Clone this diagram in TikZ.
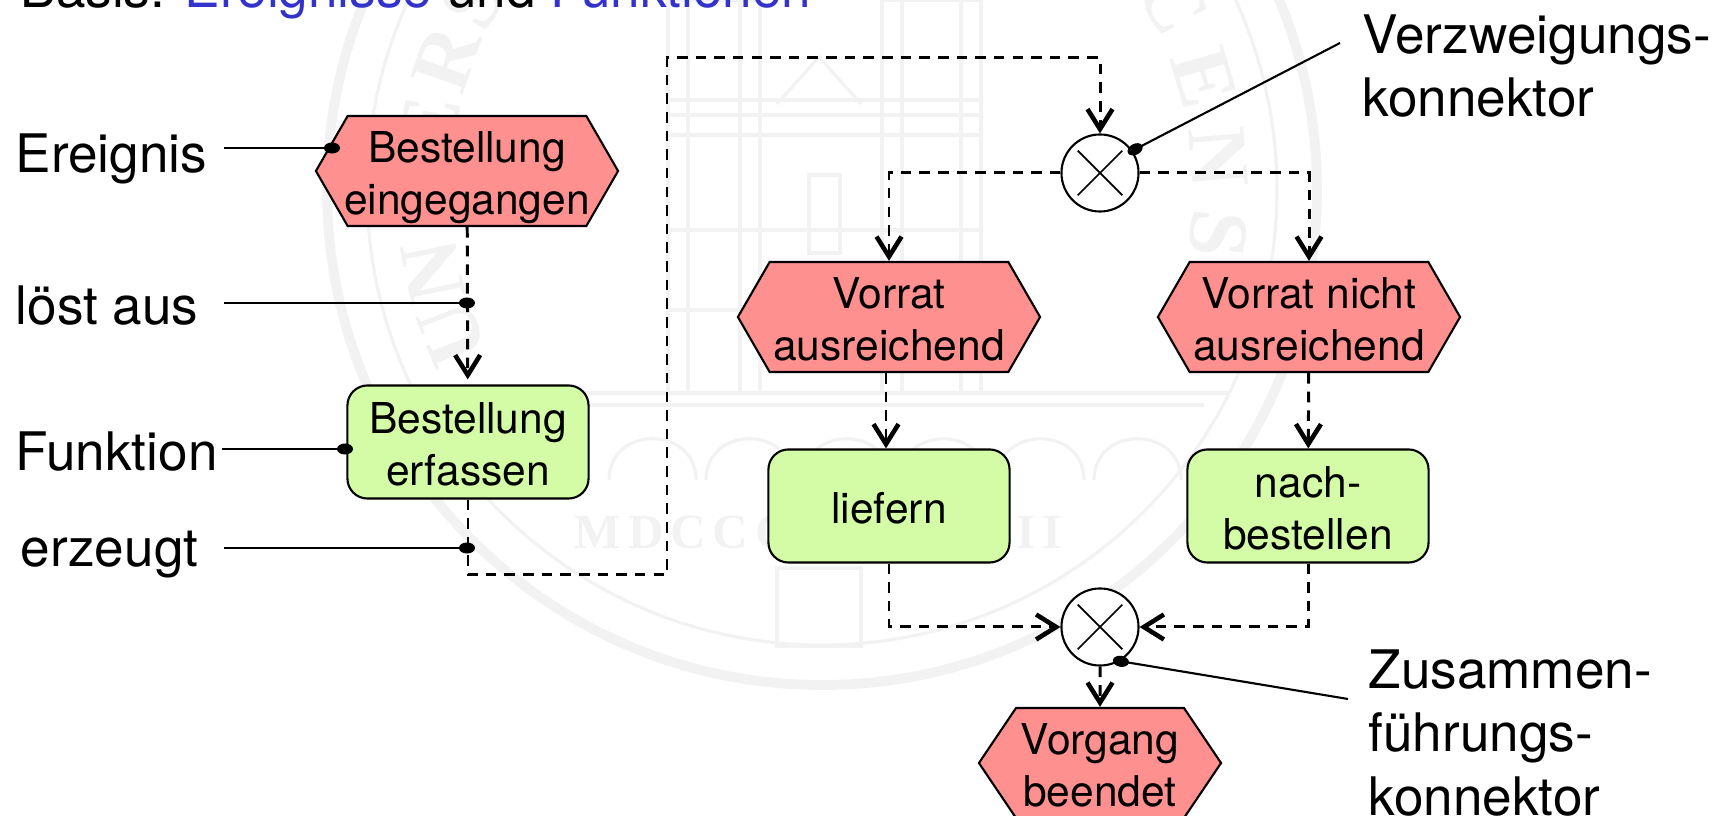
\documentclass[tikz,border=0pt]{standalone}
\usepackage{fontspec}
\setmainfont{TeX Gyre Heros}
\newfontfamily\sealfont[LetterSpace=14]{Liberation Serif}
\newfontfamily\sealarc{Liberation Serif}
\usepackage{xcolor}
\usetikzlibrary{arrows.meta,shapes.symbols,decorations.text}
\definecolor{eventred}{HTML}{FF9090}
\definecolor{funcgreen}{HTML}{D4FCA6}
\definecolor{basisblue}{HTML}{3333CC}
\definecolor{sealgray}{HTML}{F2F2F2}
\newcommand{\twolines}[2]{\rule{0pt}{14pt}#1\\#2\rule[-4pt]{0pt}{4pt}}
\tikzset{
	x=0.01cm, y=-0.01cm,
	label text/.style={align=center, font=\fontsize{12.1}{14.7}\selectfont},
	event/.style={draw, fill=eventred, signal, signal to=east and west, signal pointer angle=120, minimum width=3.02cm, minimum height=1.1cm, inner xsep=-0.4cm, inner ysep=-0.3cm, label text, line width=0.6pt},
	func/.style={draw, fill=funcgreen, rounded corners=0.2cm, minimum width=2.41cm, minimum height=1.13cm, inner xsep=0pt, inner ysep=-0.3cm, label text, line width=0.6pt},
	xconn/.style={draw, circle, fill=white, minimum size=0.77cm, inner sep=0pt, line width=0.6pt},
	flow/.style={line width=0.85pt, dash pattern=on 3pt off 2.3pt, -{Straight Barb[length=0.2cm,width=0.25cm,line width=1.3pt]}},
	callout/.style={line width=0.6pt, -{Circle[length=0.16cm,width=0.11cm]}},
	crossline/.style={line width=0.5pt, shorten >=0.08cm, shorten <=0.08cm},
	caption/.style={align=left, inner sep=0pt, anchor=west, font=\fontsize{15.1}{18}\selectfont},
	seal/.style={sealgray, line width=0.9pt},
	sealtext/.style={text=sealgray, font=\sealfont\bfseries\fontsize{14}{14}\selectfont, inner sep=0pt},
	sealarcs/.style={postaction={decorate, decoration={text along path, text format delimiters={|}{|}, text align={fit to path}, text={|\sealarc\bfseries\fontsize{24}{24}\selectfont\color{sealgray}|#1}}}},
}
\begin{document}
\begin{tikzpicture}
	\useasboundingbox (0,0) rectangle (1726,816);
	% seal in the background
	\draw[seal, line width=2.8pt] (822,190) circle (495);
	\draw[seal] (822,190) circle (455);
	\draw[seal] (668,0) rectangle (760,393) (882,0) rectangle (981,393);
	\draw[seal] (688,0) rectangle (740,393) (902,0) rectangle (961,393);
	\draw[seal] (777,104) -- (819,57) -- (861,104);
	\foreach \yy in {100,115,135,230,310}
		\draw[seal] (668,\yy) -- (981,\yy);
	\draw[seal] (809,253) rectangle (840,175);
	\draw[seal] (415,393) -- (1229,393) (440,405) -- (1204,405);
	\foreach \xx in {609,706,803,900,997,1094}
		\draw[seal] (\xx,480) .. controls (\xx,425) and (\xx+87,425) .. (\xx+87,480);
	\draw[seal] (777,646) rectangle (861,568);
	\path[sealarcs=UNI] (8.22cm,-1.9cm) ++(206:3.7cm) arc[start angle=206, end angle=186, radius=3.7cm];
	\path[sealarcs=ERS] (8.22cm,-1.9cm) ++(175:3.7cm) arc[start angle=175, end angle=148, radius=3.7cm];
	\path[sealarcs=CENS] (8.22cm,-1.9cm) ++(33:3.7cm) arc[start angle=33, end angle=-10, radius=3.7cm];
	\node (sealleft) [sealtext, anchor=west] at (574,532) {MDCCC};
	\node (sealright) [sealtext, anchor=east] at (1062,532) {II};

	\node (basis) [caption] at (20,-6) {Basis: \textcolor{basisblue}{Ereignisse} und \textcolor{basisblue}{Funktionen}};
	\node (ereignis) [caption] at (15,159) {Ereignis};
	\node (loest) [caption] at (15,306) {löst aus};
	\node (funktion) [caption] at (15,452) {Funktion};
	\node (erzeugt) [caption] at (20,555) {erzeugt};
	\node (verzw) [caption] at (1362,66) {Verzweigungs-\\konnektor};
	\node (zusam) [caption] at (1368,733) {Zusammen-\\führungs-\\konnektor};

	\node (e1) [event] at (467,171) {\twolines{Bestellung}{eingegangen}};
	\node (f1) [func] at (468,442) {\twolines{Bestellung}{erfassen}};
	\node (x1) [xconn] at (1100,173) {};
	\node (e2) [event] at (889,317) {\twolines{Vorrat}{ausreichend}};
	\node (e3) [event] at (1309,317) {\twolines{Vorrat nicht}{ausreichend}};
	\node (f2) [func, text height=10pt, text depth=0pt] at (889,506) {liefern};
	\node (f3) [func] at (1308,506) {\twolines{nach-}{bestellen}};
	\node (x2) [xconn] at (1100,627) {};
	\node (e4) [event, minimum width=2.42cm, signal pointer angle=112] at (1100,763) {\twolines{Vorgang}{beendet}};

	\draw[crossline] (x1.45) -- (x1.225);
	\draw[crossline] (x1.135) -- (x1.315);
	\draw[crossline] (x2.45) -- (x2.225);
	\draw[crossline] (x2.135) -- (x2.315);

	\coordinate (r1) at (667,575);
	\coordinate (r2) at (1100,58);
	\draw[flow, shorten >=0.05cm] (e1) -- (f1);
	\draw[flow] (f1.south) |- (r1) |- (r2) -- (x1);
	\draw[flow] (x1.west) -| (e2.north);
	\draw[flow] (x1.east) -| (e3.north);
	\draw[flow] ([xshift=-0.03cm]e2.south) -- ([xshift=-0.03cm]f2.north);
	\draw[flow] (e3) -- (f3);
	\draw[flow] (f2.south) |- (x2.west);
	\draw[flow] (f3.south) |- (x2.east);
	\draw[flow] (x2) -- (e4);

	\coordinate (c1) at (224,148);
	\coordinate (d1) at (340,148);
	\coordinate (c2) at (224,303);
	\coordinate (d2) at (475,303);
	\coordinate (c3) at (222,449);
	\coordinate (d3) at (353,449);
	\coordinate (c4) at (224,548);
	\coordinate (d4) at (475,548);
	\coordinate (c5) at (1340,43);
	\coordinate (d5) at (1128,153);
	\coordinate (c6) at (1348,699);
	\coordinate (d6) at (1113,660);
	\draw[callout] (c1) -- (d1);
	\draw[callout] (c2) -- (d2);
	\draw[callout] (c3) -- (d3);
	\draw[callout] (c4) -- (d4);
	\draw[callout] (c5) -- (d5);
	\draw[callout] (c6) -- (d6);
\end{tikzpicture}
\end{document}
